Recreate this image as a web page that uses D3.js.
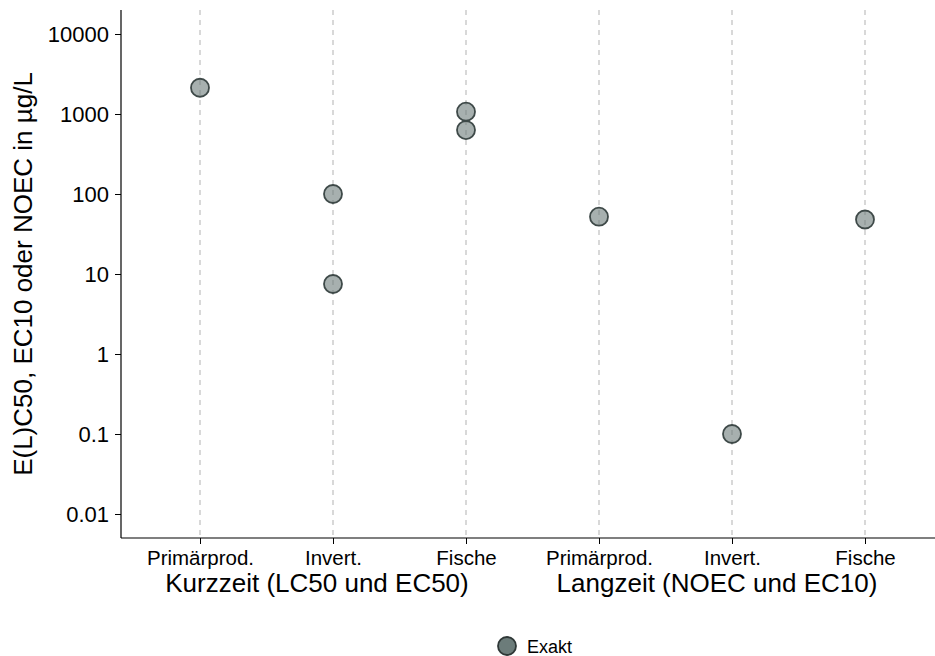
<!DOCTYPE html>
<html>
<head>
<meta charset="utf-8">
<script src="https://cdn.jsdelivr.net/npm/d3@7"></script>
<style>
  html, body { margin: 0; padding: 0; background: #fff; }
  svg { display: block; font-family: "Liberation Sans", Arial, sans-serif; }
</style>
</head>
<body>
<svg id="chart" width="935" height="656"></svg>
<script>
// Endpoint categories (short-term group, then long-term group)
const categories = ["K_Primär", "K_Invert", "K_Fische", "L_Primär", "L_Invert", "L_Fische"];
const categoryLabels = ["Primärprod.", "Invert.", "Fische", "Primärprod.", "Invert.", "Fische"];
const groupLabels = ["Kurzzeit (LC50 und EC50)", "Langzeit (NOEC und EC10)"];

// Individual endpoint values in µg/L
const pointCategory = ["K_Primär", "K_Invert", "K_Invert", "K_Fische", "K_Fische", "L_Primär", "L_Invert", "L_Fische"];
const pointValue    = [2130, 100, 7.5, 1070, 630, 52, 0.1, 48];

const yTicks = [0.01, 0.1, 1, 10, 100, 1000, 10000];

const svg = d3.select("#chart");
const margin = { left: 121, right: 0, top: 10, bottom: 118 };
const W = 935, H = 656;
const x0 = margin.left, x1 = W - margin.right;
const y0 = margin.top, y1 = H - margin.bottom;
const FONT = "'Liberation Sans', Arial, sans-serif";

const x = d3.scalePoint().domain(categories).range([200, 865]);
const y = d3.scaleLog().domain([Math.pow(10, -2.3), Math.pow(10, 4.3)]).range([y1, y0]);

// Dashed vertical guides per category
svg.append("g").selectAll("line").data(categories).join("line")
  .attr("x1", d => x(d)).attr("x2", d => x(d))
  .attr("y1", y0).attr("y2", y1)
  .attr("stroke", "#c4c4c4").attr("stroke-width", 1.3)
  .attr("stroke-dasharray", "5,5");

// Y axis
const yAxis = d3.axisLeft(y).tickValues(yTicks)
  .tickFormat(d => d3.format("~g")(d)).tickSize(6).tickPadding(6);
const gy = svg.append("g").attr("transform", `translate(${x0},0)`).call(yAxis);
gy.attr("font-family", FONT).attr("font-size", 22);
gy.select(".domain").attr("stroke", "#000").attr("stroke-width", 1.2)
  .attr("d", `M-0,${y0}V${y1}`);
gy.selectAll(".tick line").attr("stroke", "#000").attr("stroke-width", 1);
gy.selectAll(".tick text").attr("fill", "#000");

// X axis
const xAxis = d3.axisBottom(x).tickFormat((d, i) => categoryLabels[i]).tickSize(6).tickPadding(6);
const gx = svg.append("g").attr("transform", `translate(0,${y1})`).call(xAxis);
gx.attr("font-family", FONT).attr("font-size", 20.5);
gx.select(".domain").attr("stroke", "#000").attr("stroke-width", 1.2)
  .attr("d", `M${x0},0H${x1}`);
gx.selectAll(".tick line").attr("stroke", "#000").attr("stroke-width", 1);
gx.selectAll(".tick text").attr("fill", "#000");

// Group labels under the category ticks (set slightly left of each group's middle)
const groupCenters = [
  (x(categories[0]) + x(categories[2])) / 2 - 16,
  (x(categories[3]) + x(categories[5])) / 2 - 15
];
svg.append("g").selectAll("text").data(groupLabels).join("text")
  .attr("x", (d, i) => groupCenters[i])
  .attr("y", 592)
  .attr("text-anchor", "middle")
  .attr("font-size", 26)
  .attr("fill", "#000")
  .text(d => d);

// Y axis title
svg.append("text")
  .attr("transform", `translate(32,274) rotate(-90)`)
  .attr("text-anchor", "middle")
  .attr("font-size", 26)
  .attr("fill", "#000")
  .text("E(L)C50, EC10 oder NOEC in µg/L");

// Points
svg.append("g").selectAll("circle").data(pointValue).join("circle")
  .attr("cx", (d, i) => x(pointCategory[i]))
  .attr("cy", d => y(d))
  .attr("r", 9)
  .attr("fill", "#6c7c7a").attr("fill-opacity", 0.6)
  .attr("stroke", "#3e4948").attr("stroke-width", 1.8);

// Legend
const lg = svg.append("g").attr("transform", "translate(507,646)");
lg.append("circle").attr("r", 9)
  .attr("fill", "#6c7c7a").attr("stroke", "#2f3837").attr("stroke-width", 1.8);
lg.append("text").attr("x", 20).attr("y", 6.5)
  .attr("font-size", 18).attr("fill", "#000").text("Exakt");
</script>
</body>
</html>
